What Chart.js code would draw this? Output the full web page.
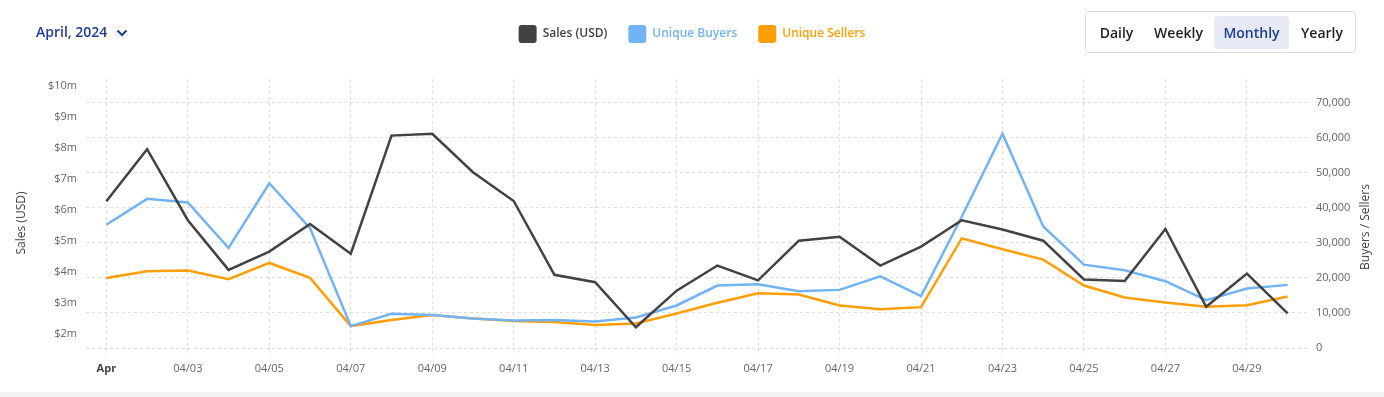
<!DOCTYPE html>
<html>
<head>
<meta charset="utf-8">
<script src="https://cdn.jsdelivr.net/npm/chart.js@4"></script>
<style>
html, body { margin: 0; padding: 0; background: #fff; font-family: "Open Sans", sans-serif; }
#wrap { position: relative; width: 1384px; height: 397px; overflow: hidden; }
#chartBox { position: absolute; left: 0; top: 0; width: 1384px; height: 390px; }
#foot { position: absolute; left: 0; top: 392px; width: 1384px; height: 5px; background: #f2f3f5; }
.month { position: absolute; left: 36px; top: 22px; font-size: 14px; font-weight: 600; color: #1d3c96; line-height: 20px; }
.month svg { position: absolute; left: 80px; top: 7px; }
.tabs { position: absolute; left: 1085px; top: 11px; width: 269px; height: 40px; border: 1px solid #dcdde1; border-radius: 4px; }
.tab { position: absolute; top: 4px; height: 33px; line-height: 33px; text-align: center; font-size: 14px; font-weight: 600; color: #1f1f1f; border-radius: 4px; }
.tab.on { background: #e7eaf6; color: #1d3c96; }
.axtitle { position: absolute; width: 200px; height: 16px; line-height: 16px; text-align: center; font-size: 12px; color: #444; transform: rotate(-90deg); }
</style>
</head>
<body>
<div id="wrap">
  <div id="chartBox"><canvas id="salesChart"></canvas></div>
  <div class="month">April, 2024
    <svg width="12" height="8" viewBox="0 0 12 8"><polyline points="1.5,1.5 6,6 10.5,1.5" fill="none" stroke="#1d3c96" stroke-width="2"/></svg>
  </div>
  <div class="tabs">
    <div class="tab" style="left:4px;width:53px">Daily</div>
    <div class="tab" style="left:57px;width:71px">Weekly</div>
    <div class="tab on" style="left:128px;width:75px">Monthly</div>
    <div class="tab" style="left:205px;width:62px">Yearly</div>
  </div>
  <div class="axtitle" style="left:-79px;top:215px">Sales (USD)</div>
  <div class="axtitle" style="left:1265px;top:219px">Buyers / Sellers</div>
  <div id="foot"></div>
</div>
<script>
const days = ['Apr', '04/02', '04/03', '04/04', '04/05', '04/06', '04/07', '04/08', '04/09', '04/10',
  '04/11', '04/12', '04/13', '04/14', '04/15', '04/16', '04/17', '04/18', '04/19', '04/20',
  '04/21', '04/22', '04/23', '04/24', '04/25', '04/26', '04/27', '04/28', '04/29', '04/30'];

// sales in millions of USD
const salesM = [6.28, 7.96, 5.67, 4.07, 4.66, 5.55, 4.59, 8.40, 8.46, 7.22,
  6.29, 3.91, 3.67, 2.22, 3.40, 4.21, 3.73, 5.01, 5.14, 4.21,
  4.82, 5.67, 5.37, 5.01, 3.76, 3.71, 5.39, 2.88, 3.95, 2.67];

const buyers = [35200, 42600, 41550, 28560, 47060, 34250, 6260, 9770, 9390, 8440,
  7870, 7970, 7590, 8730, 12140, 17840, 18220, 16220, 16600, 20490,
  14800, 37480, 61200, 34720, 23810, 22200, 19070, 13660, 16980, 18030];

const sellers = [20020, 21920, 22100, 19640, 24290, 20020, 6260, 7970, 9390, 8440,
  7680, 7400, 6550, 7020, 9870, 12900, 15650, 15280, 12140, 11100,
  11670, 31310, 28200, 25240, 17840, 14420, 13000, 11760, 12240, 14710];

const salesTicks = [2, 3, 4, 5, 6, 7, 8, 9, 10];
const countTicks = [0, 10000, 20000, 30000, 40000, 50000, 60000, 70000];

const gridColor = '#dedede';
const tickFont = { family: 'Open Sans', size: 11 };

// push the plot down a bit under the legend
const legendGap = {
  id: 'legendGap',
  beforeInit(chart) {
    const fit = chart.legend.fit;
    chart.legend.fit = function () {
      fit.bind(chart.legend)();
      this.height += 26;
    };
  }
};

const ctx = document.getElementById('salesChart');

new Chart(ctx, {
  type: 'line',
  data: {
    labels: days,
    datasets: [{
      label: 'Sales (USD)',
      data: salesM,
      yAxisID: 'y',
      borderColor: '#424242',
      backgroundColor: '#424242',
      borderWidth: 2.5,
      pointRadius: 0,
      tension: 0
    }, {
      label: 'Unique Buyers',
      data: buyers,
      yAxisID: 'y1',
      borderColor: '#72b4f3',
      backgroundColor: '#72b4f3',
      borderWidth: 2.5,
      pointRadius: 0,
      tension: 0
    }, {
      label: 'Unique Sellers',
      data: sellers,
      yAxisID: 'y1',
      borderColor: '#ff9e05',
      backgroundColor: '#ff9e05',
      borderWidth: 2.5,
      pointRadius: 0,
      tension: 0
    }]
  },
  options: {
    responsive: true,
    maintainAspectRatio: false,
    animation: false,
    layout: { padding: { top: 4, left: 0, right: 0, bottom: 0 } },
    plugins: {
      tooltip: { enabled: false },
      legend: {
        position: 'top',
        labels: {
          boxWidth: 18,
          boxHeight: 18,
          padding: 21,
          useBorderRadius: true,
          borderRadius: 3,
          font: { family: 'Open Sans', size: 12, weight: '600' },
          generateLabels(chart) {
            const items = Chart.defaults.plugins.legend.labels.generateLabels(chart);
            items.forEach(it => {
              it.fontColor = it.strokeStyle;
              it.lineWidth = 0;
            });
            return items;
          }
        }
      }
    },
    scales: {
      x: {
        offset: true,
        grid: { color: gridColor, offset: false, tickLength: 7, tickColor: gridColor, tickBorderDash: [3, 3] },
        border: { display: false, dash: [3, 3] },
        afterBuildTicks(s) {
          s.ticks = s.ticks.filter((t, i) => i % 2 === 0);
        },
        afterFit(s) { s.height = 42; },
        ticks: {
          autoSkip: false,
          maxRotation: 0,
          padding: 7,
          color: c => c.index === 0 ? '#444' : '#666',
          font: c => c.index === 0 ? { family: 'Open Sans', size: 11, weight: 'bold' } : tickFont
        }
      },
      y: {
        position: 'left',
        min: 1.5502,
        max: 10.2249,
        grid: { display: false, drawTicks: false },
        border: { display: false },
        afterBuildTicks(s) {
          s.ticks = salesTicks.map(v => ({ value: v }));
        },
        afterFit(s) { s.width = 86; },
        ticks: {
          padding: 9,
          color: '#666',
          font: tickFont,
          callback: v => '$' + v + 'm'
        }
      },
      y1: {
        position: 'right',
        min: 0,
        max: 76829,
        grid: { color: gridColor, drawTicks: false },
        border: { display: false, dash: [3, 3] },
        afterBuildTicks(s) {
          s.ticks = countTicks.map(v => ({ value: v }));
        },
        afterFit(s) { s.width = 76; },
        ticks: {
          padding: 8,
          color: '#666',
          font: tickFont,
          callback: v => v.toLocaleString('en-US')
        }
      }
    }
  },
  plugins: [legendGap]
});
</script>
</body>
</html>
